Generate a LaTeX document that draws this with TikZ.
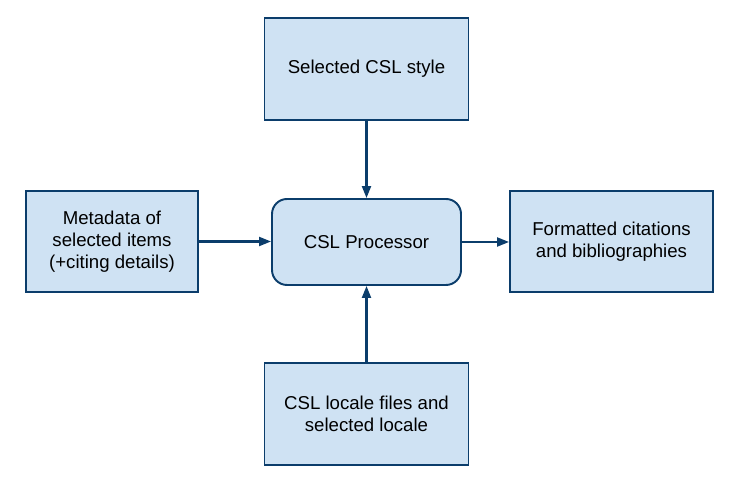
\documentclass[tikz,border=0pt]{standalone}
\usepackage{fontspec}
\setmainfont{Liberation Sans}
\usepackage{tikz}
\usepackage{xcolor}
\usetikzlibrary{calc}
\usetikzlibrary{positioning}
\usetikzlibrary{arrows.meta}

\definecolor{boxfill}{HTML}{CFE2F3}
\definecolor{boxline}{HTML}{0B3D6B}

\tikzset{
	inbox/.style={draw=boxline,fill=boxfill,line width=1.1pt,align=center,
		font=\fontsize{10.6}{12.6}\selectfont,inner sep=0pt},
	flow/.style={draw=boxline,line width=1.2pt,->}
}

\begin{document}
\begin{tikzpicture}[>={Triangle[length=0.24cm,width=0.18cm]}]
\useasboundingbox (0,0) rectangle (14.62,9.68);

\node[inbox,rounded corners=0.3cm,minimum width=3.78cm,minimum height=1.72cm] (proc) at (7.33,4.84) {CSL Processor};
\node[inbox,minimum width=4.08cm,minimum height=2.04cm] (style) at (7.33,8.30) {\raisebox{-2pt}{Selected CSL style}};
\node[inbox,minimum width=3.44cm,minimum height=2.02cm] (meta) at (2.24,4.85) {Metadata of\\selected items\\(+citing details)};
\node[inbox,minimum width=4.06cm,minimum height=2.02cm] (output) at (12.23,4.85) {Formatted citations\\and bibliographies};
\node[inbox,minimum width=4.08cm,minimum height=2.04cm] (locale) at (7.33,1.40) {CSL locale files and\\selected locale};

\draw[flow] (style) -- (proc);
\draw[flow] (locale) -- (proc);
\draw[flow] (meta.east) -- (meta.east -| proc.west);
\draw[flow] (proc.east) -- (proc.east -| output.west);

\end{tikzpicture}
\end{document}
